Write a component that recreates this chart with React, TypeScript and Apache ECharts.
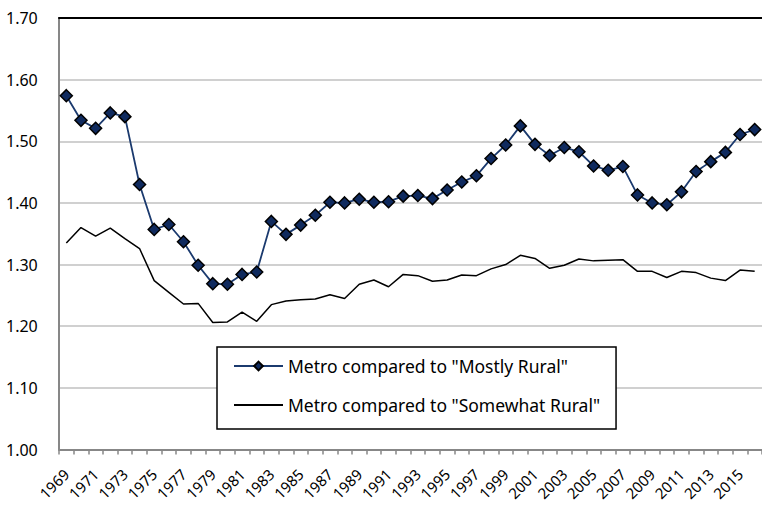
import React, { useEffect, useRef } from "react";
import * as echarts from "echarts";

const years: string[] = [];
for (let y = 1969; y <= 2016; y++) years.push(String(y));

const mostlyRural = [
  1.574, 1.534, 1.521, 1.546, 1.540, 1.430, 1.357, 1.365, 1.337, 1.299,
  1.269, 1.268, 1.284, 1.288, 1.370, 1.349, 1.364, 1.380, 1.401, 1.400,
  1.406, 1.401, 1.402, 1.411, 1.412, 1.407, 1.421, 1.434, 1.444, 1.472,
  1.494, 1.525, 1.495, 1.477, 1.490, 1.483, 1.460, 1.453, 1.459, 1.413,
  1.400, 1.397, 1.418, 1.451, 1.467, 1.482, 1.511, 1.519,
];

const somewhatRural = [
  1.335, 1.360, 1.346, 1.359, 1.342, 1.326, 1.274, 1.255, 1.236, 1.237,
  1.206, 1.207, 1.223, 1.208, 1.235, 1.241, 1.243, 1.244, 1.251, 1.245,
  1.268, 1.275, 1.264, 1.284, 1.282, 1.273, 1.275, 1.283, 1.282, 1.293,
  1.300, 1.315, 1.310, 1.294, 1.299, 1.309, 1.306, 1.307, 1.308, 1.289,
  1.289, 1.279, 1.289, 1.287, 1.278, 1.274, 1.291, 1.289,
];

const seriesNames = [
  'Metro compared to "Mostly Rural"',
  'Metro compared to "Somewhat Rural"',
];

const FONT = "Noto Sans";

export default function App() {
  const ref = useRef<HTMLDivElement>(null);
  useEffect(() => {
    if (!ref.current) return;
    const chart = echarts.init(ref.current, undefined, { renderer: "svg" });
    chart.setOption({
      animation: false,
      backgroundColor: "#ffffff",
      grid: { left: 59, right: -7, top: 18, bottom: 55.5 },
      legend: {
        left: 217,
        top: 347,
        orient: "vertical",
        backgroundColor: "#ffffff",
        borderColor: "#000000",
        borderWidth: 1.5,
        borderRadius: 0,
        padding: [10, 16, 15, 16],
        itemGap: 21,
        itemWidth: 49,
        itemHeight: 11,
        textStyle: { fontFamily: FONT, fontSize: 17.5, color: "#000" },
        data: [
          { name: seriesNames[0] },
          { name: seriesNames[1], itemStyle: { opacity: 0 } },
        ],
      },
      xAxis: [
        {
          type: "category",
          data: years,
          boundaryGap: true,
          axisLine: { lineStyle: { color: "#878787", width: 2 } },
          axisTick: {
            show: true,
            interval: 0,
            length: 5,
            lineStyle: { color: "#878787", width: 1.5 },
          },
          axisLabel: {
            interval: 1,
            rotate: 45,
            margin: 22,
            fontFamily: FONT,
            fontSize: 15,
            color: "#000",
          },
          splitLine: { show: false },
        },
        {
          type: "category",
          data: years,
          position: "top",
          axisLine: { lineStyle: { color: "#000000", width: 2 } },
          axisTick: { show: false },
          axisLabel: { show: false },
        },
      ],
      yAxis: {
        type: "value",
        min: 1.0,
        max: 1.7,
        interval: 0.1,
        axisLine: { show: true, lineStyle: { color: "#878787", width: 2 } },
        axisTick: { show: false },
        axisLabel: {
          formatter: (v: number) => v.toFixed(2),
          align: "left",
          margin: 53,
          fontFamily: FONT,
          fontSize: 16,
          color: "#000",
        },
        splitLine: { lineStyle: { color: "#c0c0c0", width: 1.5 } },
      },
      series: [
        {
          name: seriesNames[0],
          type: "line",
          data: mostlyRural,
          symbol: "diamond",
          symbolSize: 12,
          showSymbol: true,
          showAllSymbol: true,
          lineStyle: { color: "#1b3a6e", width: 1.8 },
          itemStyle: { color: "#0f2a5e", borderColor: "#000000", borderWidth: 1.5 },
          z: 3,
        },
        {
          name: seriesNames[1],
          type: "line",
          data: somewhatRural,
          symbol: "none",
          lineStyle: { color: "#000000", width: 1.5 },
          itemStyle: { color: "#000000" },
          z: 2,
        },
      ],
    });
    return () => chart.dispose();
  }, []);
  return (
    <div
      ref={ref}
      style={{ position: "fixed", left: 0, top: 0, width: 762, height: 505 }}
    />
  );
}
